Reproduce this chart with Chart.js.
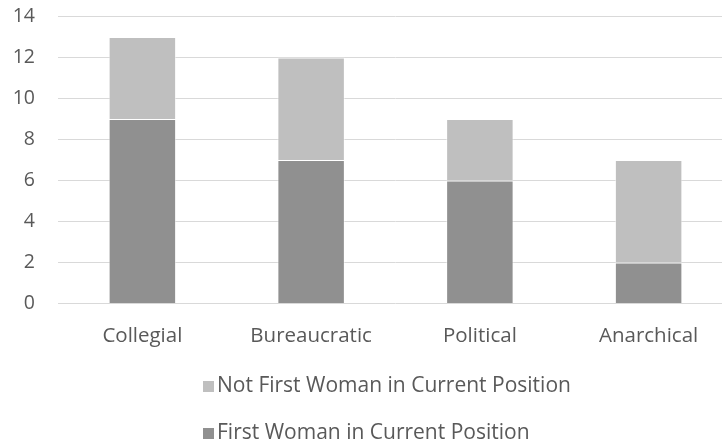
<!DOCTYPE html>
<html>
<head>
<meta charset="utf-8">
<script src="https://cdn.jsdelivr.net/npm/chart.js@4.4.0/dist/chart.umd.min.js"></script>
<style>
  html, body { margin: 0; padding: 0; background: #fff; overflow: hidden; }
  #chart { display: block; }
</style>
</head>
<body>
<!-- plot area runs slightly past the right edge of the window -->
<canvas id="chart" width="733" height="444"></canvas>
<script>
const categories = ['Collegial', 'Bureaucratic', 'Political', 'Anarchical'];
const firstWoman = [9, 7, 6, 2];
const notFirstWoman = [4, 5, 3, 5];
const seriesNames = ['First Woman in Current Position', 'Not First Woman in Current Position'];
const seriesColors = ['#909090', '#bfbfbf'];

const textColor = '#595959';
const fontFamily = '"Open Sans", "Noto Sans", sans-serif';

// legend stacked in two rows under the axis, top series first
const rowLegend = {
    id: 'rowLegend',
    afterDraw(chart) {
        let ctx = chart.ctx;
        let sets = chart.data.datasets.slice().reverse();
        ctx.save();
        ctx.font = '21px ' + fontFamily;
        ctx.textBaseline = 'middle';
        ctx.textAlign = 'left';
        sets.forEach((ds, i) => {
            let y = 386 + i * 47;
            ctx.fillStyle = ds.backgroundColor;
            ctx.fillRect(203, y - 5, 11, 11);
            ctx.fillStyle = textColor;
            ctx.fillText(ds.label, 217, y);
        });
        ctx.restore();
    }
};

let ctx = document.getElementById('chart').getContext('2d');
let chart = new Chart(ctx, {
    type: 'bar',
    data: {
        labels: categories,
        datasets: [
            {
                label: seriesNames[0],
                data: firstWoman,
                backgroundColor: seriesColors[0],
                borderColor: 'rgba(255,255,255,0.5)',
                borderWidth: 1,
                categoryPercentage: 1,
                barPercentage: 0.4
            },
            {
                label: seriesNames[1],
                data: notFirstWoman,
                backgroundColor: seriesColors[1],
                borderColor: 'rgba(255,255,255,0.5)',
                borderWidth: 1,
                categoryPercentage: 1,
                barPercentage: 0.4
            }
        ]
    },
    options: {
        responsive: false,
        animation: false,
        layout: {
            padding: { top: 16.5, right: 0, bottom: 95.4, left: 0 }
        },
        plugins: {
            legend: { display: false },
            tooltip: { enabled: false }
        },
        scales: {
            x: {
                stacked: true,
                grid: { display: false, drawTicks: false },
                border: { display: false },
                ticks: {
                    color: textColor,
                    font: { family: fontFamily, size: 20.5 },
                    padding: 20.5,
                    maxRotation: 0
                },
                afterFit: (scale) => {
                    scale.height = 45.1;
                    scale.paddingLeft = 0;
                    scale.paddingRight = 0;
                }
            },
            y: {
                stacked: true,
                min: 0,
                max: 14,
                grid: { color: '#d9d9d9', lineWidth: 1, drawTicks: false },
                border: { display: false },
                ticks: {
                    stepSize: 2,
                    color: textColor,
                    font: { family: fontFamily, size: 19.5 },
                    padding: 23
                },
                afterFit: (scale) => {
                    // tick labels may spill above/below the plot, no extra room needed
                    scale.width = 58;
                    scale.paddingTop = 0;
                    scale.paddingBottom = 0;
                }
            }
        }
    },
    plugins: [rowLegend]
});
</script>
</body>
</html>
